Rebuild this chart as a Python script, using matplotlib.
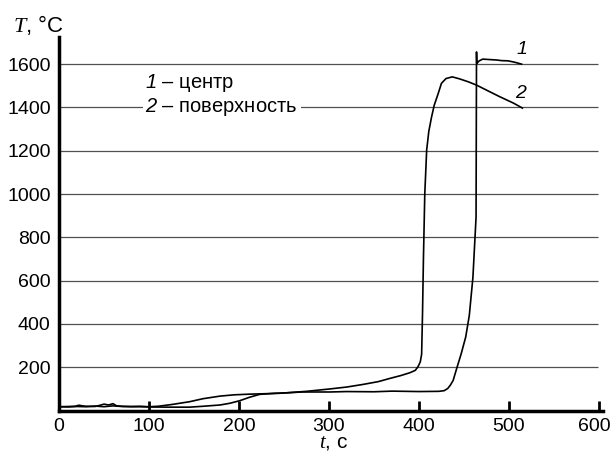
import matplotlib
matplotlib.use('Agg')
import matplotlib.pyplot as plt
import matplotlib.transforms as mtransforms

plt.rcParams['font.family'] = ['Liberation Sans', 'DejaVu Sans']
plt.rcParams['mathtext.fontset'] = 'custom'
plt.rcParams['mathtext.it'] = 'Liberation Serif:italic'
plt.rcParams['mathtext.rm'] = 'Liberation Serif'
plt.rcParams['mathtext.sf'] = 'Liberation Sans:italic'

# curve 1 - centre
t_center = [0, 10, 20, 30, 40, 50, 60, 70, 80, 90, 100, 120, 145, 160, 179, 190,
            201, 212, 223, 240, 253, 270, 301, 320, 350, 370, 400, 422, 428, 432,
            435, 438, 442, 447, 452, 456, 460, 463.5, 464, 464.3, 467, 471, 478,
            486, 492, 499, 506, 514]
T_center = [18, 17, 19, 18, 21, 18, 22, 19, 18, 18, 17, 16, 16, 20, 26, 34,
            46, 62, 75, 80, 82, 86, 86, 88, 87, 90, 88, 89, 92, 102,
            118, 139, 195, 263, 340, 440, 615, 893, 1656, 1603, 1615, 1623, 1621,
            1619, 1616, 1615, 1609, 1600]

# curve 2 - surface
t_surf = [0, 10, 18, 22, 26, 30, 40, 45, 50, 55, 60, 64, 70, 80, 90, 100, 110,
          125, 145, 160, 179, 195, 212, 245, 275, 301, 320, 338, 355, 368, 380,
          390, 396, 399, 401.5, 403, 404, 405, 406.5, 408.6, 411, 414, 417, 421.5,
          425, 430, 437, 445, 455, 464, 475, 490, 505, 515]
T_surf = [18, 19, 20, 25, 22, 20, 19, 24, 30, 26, 32, 22, 20, 19, 20, 18, 20,
          28, 41, 55, 67, 73, 76, 80, 89, 100, 109, 121, 134, 149, 162,
          175, 186, 203, 225, 260, 450, 700, 1000, 1203, 1290, 1355, 1410, 1465,
          1511, 1533, 1541, 1532, 1518, 1503, 1480, 1449, 1420, 1397]

y_ticks = [200, 400, 600, 800, 1000, 1200, 1400, 1600]
x_ticks = [0, 100, 200, 300, 400, 500, 600]

fig = plt.figure(figsize=(6.13, 4.57), dpi=100)
ax = fig.add_axes([0.0963, 0.1015, 0.888, 0.8175])

ax.hlines(y_ticks, 0, 599, color='#505050', lw=0.9, zorder=1)
ax.plot(t_center, T_center, color='black', lw=1.2, zorder=2)
ax.plot(t_surf, T_surf, color='black', lw=1.2, zorder=2)

ax.set_xlim(0, 605)
ax.set_ylim(0, 1725)
ax.set_xticks(x_ticks)
ax.set_yticks(y_ticks)
ax.tick_params(axis='x', direction='in', length=7, width=2, labelsize=14, pad=5)
ax.tick_params(axis='y', length=0, labelsize=14, pad=6)
for s in ['top', 'right']:
    ax.spines[s].set_visible(False)
for s in ['left', 'bottom']:
    ax.spines[s].set_linewidth(2.5)

# keep "600" inside the picture
last = ax.xaxis.get_major_ticks()[-1].label1
last.set_transform(last.get_transform() +
                   mtransforms.ScaledTranslation(-5 / 100, 0, fig.dpi_scale_trans))

# legend text
fs = 14.5
ax.text(96, 1512, r'$\mathsf{1}$ – центр', fontsize=fs, va='center', ha='left', zorder=3)
ax.text(96, 1402, r'$\mathsf{2}$ – поверхность ', fontsize=fs, va='center', ha='left',
        zorder=3, bbox=dict(facecolor='white', edgecolor='none', pad=2))

# curve labels
ax.text(514, 1668, r'$\mathsf{1}$', fontsize=14, va='center', ha='center')
ax.text(514, 1466, r'$\mathsf{2}$', fontsize=14, va='center', ha='center')

fig.text(13 / 613, 1 - 32 / 457, r'$T$, °C', fontsize=16, ha='left', va='baseline')
fig.text(334 / 613, 1 - 447 / 457, r'$t$, с', fontsize=15, ha='center', va='baseline')

fig.savefig('out.png', dpi=100)
